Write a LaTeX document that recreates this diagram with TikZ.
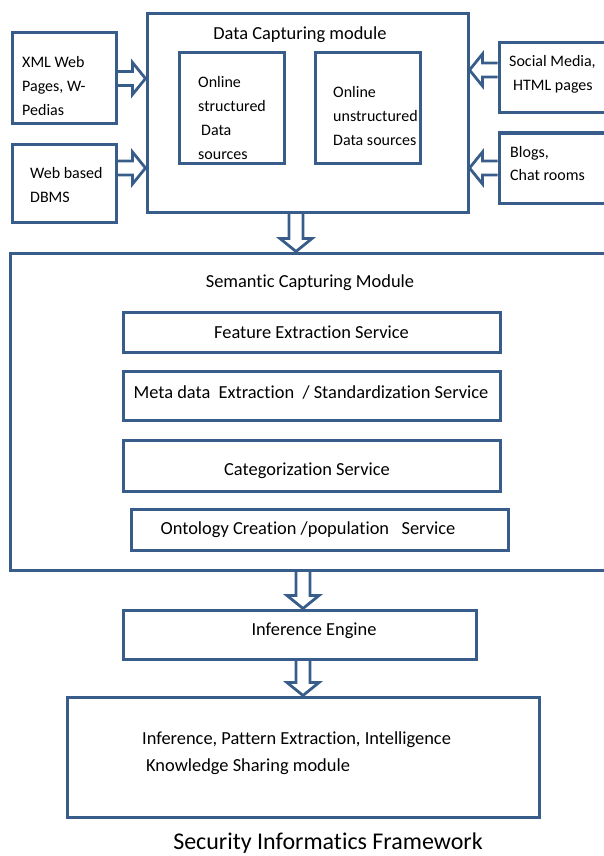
\documentclass[tikz,border=0pt]{standalone}
\usepackage{fontspec}
\setmainfont{Carlito}[Ligatures=NoCommon]
\usetikzlibrary{calc}
\definecolor{boxblue}{RGB}{56,93,138}
\begin{document}
\begin{tikzpicture}
[x=1pt,y=-1pt,
box/.style={rectangle,draw=boxblue,line width=3pt,inner sep=0pt},
srcbox/.style={box,minimum width=104pt},
sidebox/.style={box,minimum width=109pt,minimum height=70pt},
innerbox/.style={box,minimum width=105pt,minimum height=110pt},
servicebox/.style={box,minimum width=377pt,font=\fontsize{18.4}{22}\selectfont},
smalltext/.style={inner sep=0pt,align=left,font=\fontsize{16}{24}\selectfont},
bigtext/.style={inner sep=0pt,align=left,font=\fontsize{18.4}{27}\selectfont},
hollow/.style={draw=boxblue,line width=2.8pt,line join=miter,
  to path={($(\tikztostart)!7pt!90:(\tikztotarget)$)
    -- ($(\tikztotarget)!13pt!(\tikztostart)!7pt!90:(\tikztotarget)$)
    -- ($(\tikztotarget)!13pt!(\tikztostart)!16pt!90:(\tikztotarget)$)
    -- (\tikztotarget)
    -- ($(\tikztotarget)!13pt!(\tikztostart)!16pt!-90:(\tikztotarget)$)
    -- ($(\tikztotarget)!13pt!(\tikztostart)!7pt!-90:(\tikztotarget)$)
    -- ($(\tikztostart)!7pt!-90:(\tikztotarget)$)}}]
\useasboundingbox (0,0) rectangle (604,856);

% data capturing
\node[box,minimum width=321pt,minimum height=198pt] (dcm) at (307.5,113) {};
\node[bigtext] (dcmtitle) at (300,35) {Data Capturing module};
\node[innerbox] (os) at (231.5,108) {};
\node[smalltext,anchor=west] (ostext) at (198,118) {Online\\structured\\\hspace{3pt}Data\\sources};
\node[innerbox] (ou) at (367.5,108) {};
\node[smalltext,anchor=west] (outext) at (333,116) {Online\\unstructured\\Data sources};

% sources
\node[srcbox,minimum height=91pt] (xml) at (64,78.5) {};
\node[smalltext,anchor=west] (xmltext) at (22,86) {XML Web\\Pages, W-\\Pedias};
\node[srcbox,minimum height=78pt] (dbms) at (64,183) {};
\node[smalltext,anchor=west] (dbmstext) at (30,184.5) {Web based\\DBMS};
\node[sidebox] (social) at (553.5,78) {};
\node[smalltext,anchor=west] (socialtext) at (509,74) {Social Media,\\\hspace{4pt}HTML pages};
\node[sidebox] (blogs) at (553.5,168) {};
\node[smalltext,anchor=west,font=\fontsize{16}{23}\selectfont] (blogstext) at (510,164) {Blogs,\\Chat rooms};

% semantic capturing
\node[box,minimum width=605pt,minimum height=317pt] (scm) at (312.5,411.5) {};
\node[bigtext] (scmtitle) at (310,283) {Semantic Capturing Module};
\node[servicebox,minimum height=40pt] (feat) at (311.5,332) {Feature Extraction Service};
\node[servicebox,minimum height=49pt] (meta) at (311.5,395.5) {};
\node[bigtext] (metatext) at (311,392) {Meta data\ \ Extraction\ \ / Standardization Service};
\node[servicebox,minimum height=51pt] (cat) at (311.5,465.5) {};
\node[bigtext] (cattext) at (307,471) {Categorization Service};
\node[servicebox,minimum height=41pt] (ont) at (319.5,529.5) {};
\node[bigtext] (onttext) at (308,530) {Ontology Creation /population\ \ \ Service};

% inference
\node[box,minimum width=353pt,minimum height=49pt] (ie) at (299.5,634.5) {};
\node[bigtext] (ietext) at (314,631) {Inference Engine};
\node[box,minimum width=472pt,minimum height=120pt] (ks) at (303,757) {};
\node[bigtext,anchor=west] (kstext) at (142,753.5) {Inference, Pattern Extraction, Intelligence\\\hspace{4pt}Knowledge Sharing module};
\node[inner sep=0pt,font=\fontsize{24}{28}\selectfont] (caption) at (328,843) {Security Informatics Framework};

% arrows
\coordinate (dbmsout) at ([yshift=15pt]dbms.east);
\coordinate (socialout) at ([yshift=8pt]social.west);
\coordinate (dcmout) at ([xshift=-11.5pt]dcm.south);
\coordinate (iein) at ([xshift=3.5pt]ie.north);
\draw[hollow] (xml.east) to (dcm.west |- xml.east);
\draw[hollow] (dbmsout) to (dcm.west |- dbmsout);
\draw[hollow] (socialout) to (dcm.east |- socialout);
\draw[hollow] (blogs.west) to (dcm.east |- blogs.west);
\draw[hollow] (dcmout) to (dcmout |- scm.north);
\draw[hollow] (iein |- scm.south) to (iein);
\draw[hollow] (iein |- ie.south) to (iein |- ks.north);
\end{tikzpicture}
\end{document}
